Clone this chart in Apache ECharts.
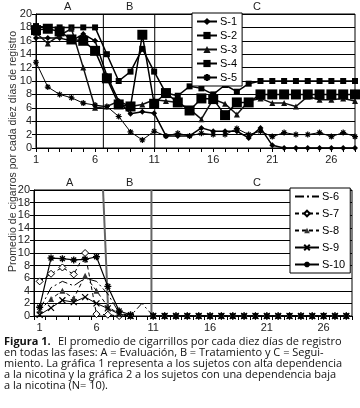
<!DOCTYPE html>
<html>
<head>
<meta charset="utf-8">
<script src="https://cdn.jsdelivr.net/npm/echarts@6/dist/echarts.min.js"></script>
<style>
html, body { margin: 0; padding: 0; background: #fff; }
#chart { width: 360px; height: 408px; }
</style>
</head>
<body>
<div id="chart"></div>
<script>
// registro (periodos de diez dias)
const days = ['1', '2', '3', '4', '5', '6', '7', '8', '9', '10', '11', '12', '13', '14',
  '15', '16', '17', '18', '19', '20', '21', '22', '23', '24', '25', '26', '27', '28']
const yTicks = [0, 2, 4, 6, 8, 10, 12, 14, 16, 18, 20]

// grafica 1: alta dependencia
const s1 = [16.4, 16.4, 16.4, 16.0, 17.0, 16.0, 10.8, 7.0, 5.1, 5.4, 5.2, 1.8, 1.8, 1.8,
  3.0, 2.5, 2.5, 2.5, 1.5, 3.0, 0.4, 0, 0, 0, 0, 0, 0, 0]
const s2 = [18.2, 18.0, 18.0, 18.0, 18.0, 18.0, 14.0, 10.0, 11.4, 14.8, 11.4, 8.2, 7.8, 9.2,
  8.9, 8.0, 9.4, 8.4, 9.6, 10, 10, 10, 10, 10, 10, 10, 10, 10]
const s3 = [17.2, 15.6, 16.8, 17.8, 12.0, 6.0, 6.2, 7.0, 6.2, 6.5, 7.2, 7.0, 6.8, 5.8,
  4.3, 7.3, 6.6, 5.0, 7.0, 7.4, 6.7, 6.7, 6.2, 7.7, 7.2, 7.2, 7.4, 7.0]
const s4 = [17.6, 17.8, 17.4, 16.2, 16.0, 14.5, 10.4, 6.5, 6.2, 16.9, 6.6, 8.2, 6.8, 5.6,
  7.4, 7.3, 4.9, 6.8, 6.8, 8, 8, 8, 8, 8, 8, 8, 8, 8]
const s5 = [12.8, 9.1, 8.0, 7.5, 6.7, 6.4, 6.2, 4.7, 2.4, 1.2, 2.5, 1.8, 2.2, 1.8,
  2.2, 2.0, 2.0, 2.9, 2.0, 2.5, 1.7, 2.3, 2.0, 2.0, 2.3, 1.7, 2.3, 1.7]

// grafica 2: baja dependencia
const s6 = [1.0, 4.5, 5.5, 4.8, 6.0, 5.5, 3.5, 0.5, 0, 2.0, 0, 0, 0, 0,
  0, 0, 0, 0, 0, 0, 0, 0, 0, 0, 0, 0, 0, 0]
const s7 = [5.5, 6.7, 7.7, 6.6, 10.0, 0.3, 0.2, 0, 0, null, 0, 0, 0, 0,
  0, 0, 0, 0, 0, 0, 0, 0, 0, 0, 0, 0, 0, 0]
const s8 = [0.9, 2.7, 4.0, 2.8, 6.4, 4.0, 1.5, 0.3, 0, null, 0, 0, 0, 0,
  0, 0, 0, 0, 0, 0, 0, 0, 0, 0, 0, 0, 0, 0]
const s9 = [0.2, 1.3, 2.5, 2.2, 3.0, 2.0, 1.2, 0.3, 0, null, 0, 0, 0, 0,
  0, 0, 0, 0, 0, 0, 0, 0, 0, 0, 0, 0, 0, 0]
const s10 = [1.4, 9.2, 9.1, 8.9, 9.0, 9.4, 4.7, 0.8, 0.2, null, 0, 0, 0, 0,
  0, 0, 0, 0, 0, 0, 0, 0, 0, 0, 0, 0, 0, 0]

// cambios de fase: [posicion arriba, posicion abajo] en el eje de dias
const phaseTop = [[6.7, 6.7], [11.05, 11.05]]
const phaseBottom = [[6.58, 7.05], [10.84, 10.84]]
const phaseNames = ['A', 'B', 'C']

const starPath = 'path://M5,0L5,10M0,5L10,5M1.5,1.5L8.5,8.5M8.5,1.5L1.5,8.5'
const crossPath = 'path://M0,0L10,10M10,0L0,10'
const font = 'Liberation Sans, Arial, sans-serif'
const capFont = 'Open Sans, sans-serif'

const chart = echarts.init(document.getElementById('chart'))

function yAxis(grid) {
  return {
    type: 'value',
    gridIndex: grid,
    min: yTicks[0],
    max: yTicks[yTicks.length - 1],
    interval: yTicks[1] - yTicks[0],
    axisLine: { show: true, lineStyle: { color: '#000', width: 1 } },
    axisTick: { show: true, length: 4, lineStyle: { color: '#000' } },
    axisLabel: { color: '#222', fontSize: 11, fontFamily: font, margin: 4 },
    splitLine: { show: true, lineStyle: { color: '#000', width: 1 } }
  }
}

function dayAxis(grid, gap) {
  return {
    type: 'category',
    gridIndex: grid,
    data: days,
    boundaryGap: gap,
    axisLine: { lineStyle: { color: '#000', width: 1 } },
    axisTick: { show: true, interval: 0, length: 4, lineStyle: { color: '#000' } },
    axisLabel: { interval: 4, color: '#222', fontSize: 11, fontFamily: font, margin: 6 }
  }
}

function hiddenAxis(grid, min, max) {
  return { type: 'value', gridIndex: grid, min: min, max: max, show: false }
}

function phaseSeries(pairs, xi, yi, color, width) {
  return pairs.map(function(p) {
    return {
      type: 'line',
      xAxisIndex: xi,
      yAxisIndex: yi,
      silent: true,
      symbol: 'none',
      lineStyle: { color: color, width: width },
      data: [[p[0], yTicks[yTicks.length - 1]], [p[1], yTicks[0]]],
      z: 1
    }
  })
}

function serie(name, data, xi, yi, opt) {
  return Object.assign({
    name: name,
    type: 'line',
    xAxisIndex: xi,
    yAxisIndex: yi,
    data: data,
    showAllSymbol: true,
    connectNulls: false,
    animation: false,
    color: '#000',
    z: 3
  }, opt)
}

const topSeries = [
  serie('S-1', s1, 0, 0, { symbol: 'diamond', symbolSize: 6, lineStyle: { width: 1.5, color: '#000' }, itemStyle: { color: '#000' } }),
  serie('S-2', s2, 0, 0, { symbol: 'rect', symbolSize: 6, lineStyle: { width: 1.5, color: '#000' }, itemStyle: { color: '#000' } }),
  serie('S-3', s3, 0, 0, { symbol: 'triangle', symbolSize: 6, lineStyle: { width: 1.5, color: '#111' }, itemStyle: { color: '#111' } }),
  serie('S-4', s4, 0, 0, { symbol: 'rect', symbolSize: 10, lineStyle: { width: 1.5, color: '#000' }, itemStyle: { color: '#000' } }),
  serie('S-5', s5, 0, 0, { symbol: starPath, symbolSize: 6, lineStyle: { width: 1, color: '#000' }, itemStyle: { color: '#000', borderColor: '#000', borderWidth: 1.2 } })
]

const bottomSeries = [
  serie('S-6', s6, 2, 1, { symbol: 'none', lineStyle: { width: 1, color: '#000', type: [9, 3, 2, 3] } }),
  serie('S-7', s7, 2, 1, { symbol: 'diamond', symbolSize: 7, lineStyle: { width: 1, color: '#000', type: [4, 3] }, itemStyle: { color: '#fff', borderColor: '#000', borderWidth: 1 } }),
  serie('S-8', s8, 2, 1, { symbol: 'triangle', symbolSize: 6, lineStyle: { width: 1, color: '#000', type: [4, 3] }, itemStyle: { color: '#333' } }),
  serie('S-9', s9, 2, 1, { symbol: crossPath, symbolSize: 6, lineStyle: { width: 1, color: '#000' }, itemStyle: { color: '#000', borderColor: '#000', borderWidth: 1.2 } }),
  serie('S-10', s10, 2, 1, { symbol: starPath, symbolSize: 7, lineStyle: { width: 1.2, color: '#000' }, itemStyle: { color: '#000', borderColor: '#000', borderWidth: 1.4 } })
]

function legend(names, left, top, iconW, iconH, gap) {
  return {
    data: names,
    orient: 'vertical',
    left: left,
    top: top,
    backgroundColor: '#fff',
    borderColor: '#000',
    borderWidth: 1,
    borderRadius: 0,
    padding: [3, 5, 3, 4],
    itemGap: gap,
    itemWidth: iconW,
    itemHeight: iconH,
    selectedMode: false,
    textStyle: { color: '#000', fontSize: 11, fontFamily: font, padding: [0, 0, 0, -2] }
  }
}

function phaseLabels(xs, y) {
  return phaseNames.map(function(t, i) {
    return { type: 'text', left: xs[i], top: y, style: { text: t, fontSize: 11, fontFamily: font, fill: '#222' } }
  })
}

const caption = [
  'El promedio de cigarrillos por cada diez días de registro',
  'en todas las fases: A = Evaluación, B = Tratamiento y C = Segui-',
  'miento. La gráfica 1 representa a los sujetos con alta dependencia',
  'a la nicotina y la gráfica 2 a los sujetos con una dependencia baja',
  'a la nicotina (N= 10).'
]

const captionGraphic = [
  { type: 'text', left: 4, top: 336, style: { text: 'Figura 1.', fontSize: 11, fontWeight: 'bold', fontFamily: capFont, fill: '#111' } }
].concat(caption.map(function(line, i) {
  return {
    type: 'text',
    left: i === 0 ? 58 : 4,
    top: 336 + i * 11.2,
    style: { text: line, fontSize: 11, fontFamily: capFont, fill: '#111' }
  }
}))

const bottomLegend = legend(['S-6', 'S-7', 'S-8', 'S-9', 'S-10'], 290, 188, 24, 7, 6)
bottomLegend.data = [{ name: 'S-6', itemStyle: { opacity: 0 } }, 'S-7', 'S-8', 'S-9', 'S-10']

chart.setOption({
  backgroundColor: '#fff',
  animation: false,
  grid: [
    { left: 36, top: 14, width: 319, height: 134, show: true, borderColor: '#000', borderWidth: 1 },
    { left: 34, top: 190, width: 318, height: 126, show: true, borderColor: '#000', borderWidth: 1 }
  ],
  xAxis: [
    dayAxis(0, false),
    hiddenAxis(0, 1, days.length),
    dayAxis(1, true),
    hiddenAxis(1, 0.5, days.length + 0.5)
  ],
  yAxis: [yAxis(0), yAxis(1)],
  legend: [
    legend(['S-1', 'S-2', 'S-3', 'S-4', 'S-5'], 192, 13, 20, 9, 3),
    bottomLegend
  ],
  graphic: phaseLabels([64, 126, 253], 1)
    .concat(phaseLabels([66, 126, 253], 177))
    .concat([{
      type: 'text',
      x: 8,
      y: 272,
      rotation: Math.PI / 2,
      style: { text: 'Promedio de cigarros por cada diez días de registro', fontSize: 10.5, fontFamily: font, fill: '#333' }
    }])
    .concat(captionGraphic),
  series: phaseSeries(phaseTop, 1, 0, '#000', 1)
    .concat(phaseSeries(phaseBottom, 3, 1, '#666', 2))
    .concat(topSeries)
    .concat(bottomSeries)
})
</script>
</body>
</html>
